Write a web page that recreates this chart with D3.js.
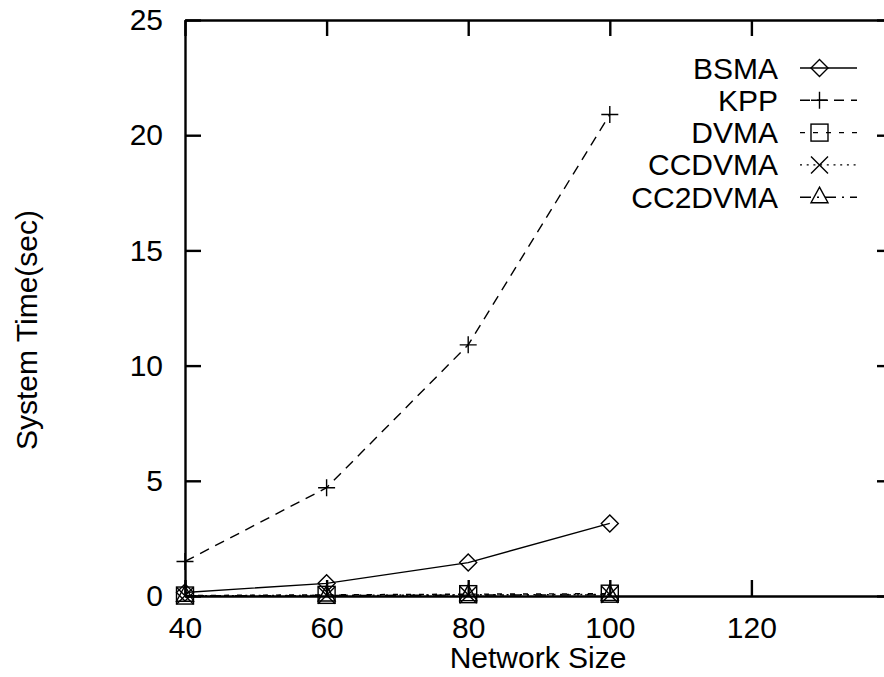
<!DOCTYPE html>
<html>
<head>
<meta charset="utf-8">
<script src="https://cdn.jsdelivr.net/npm/d3@7"></script>
<style>
  body { margin: 0; background: #fff; }
  svg { display: block; font-family: "Liberation Sans", Arial, sans-serif; }
  .axis path, .axis line { stroke: #000; stroke-width: 2.4; }
  .axis text { font-size: 30px; fill: #000; }
</style>
</head>
<body>
<div id="chart"></div>
<script>
  const sizes = [40, 60, 80, 100];
  const bsma = [0.15, 0.55, 1.45, 3.15];
  const kpp = [1.5, 4.7, 10.9, 20.9];
  const dvma = [0.02, 0.05, 0.08, 0.1];
  const ccdvma = [0.01, 0.03, 0.05, 0.07];
  const cc2dvma = [0.01, 0.02, 0.04, 0.05];
  const xTicks = [40, 60, 80, 100, 120];
  const yTicks = [0, 5, 10, 15, 20, 25];

  const series = [
    { name: "BSMA", values: bsma, dash: null, marker: "diamond" },
    { name: "KPP", values: kpp, dash: "10,7", marker: "plus" },
    { name: "DVMA", values: dvma, dash: "5,8", marker: "square" },
    { name: "CCDVMA", values: ccdvma, dash: "2,4.7", marker: "cross" },
    { name: "CC2DVMA", values: cc2dvma, dash: "11,6,2,6", marker: "triangle" }
  ];

  const width = 884, height = 677;
  const x = d3.scaleLinear().domain([40, 140]).range([185, 893]);
  const y = d3.scaleLinear().domain([0, 25]).range([596, 20]);

  const svg = d3.select("#chart").append("svg")
    .attr("width", width)
    .attr("height", height);

  // box with inward ticks on all four sides
  svg.append("g").attr("class", "axis")
    .attr("transform", `translate(0,${y(0)})`)
    .call(d3.axisBottom(x).tickValues(xTicks).tickSize(-16).tickSizeOuter(0).tickPadding(21));
  svg.append("g").attr("class", "axis")
    .attr("transform", `translate(0,${y(25)})`)
    .call(d3.axisTop(x).tickValues(xTicks).tickSize(-16).tickSizeOuter(0).tickFormat(""));
  svg.append("g").attr("class", "axis")
    .attr("transform", `translate(${x(40)},0)`)
    .call(d3.axisLeft(y).tickValues(yTicks).tickSize(-16).tickSizeOuter(0).tickPadding(22));
  svg.append("g").attr("class", "axis")
    .attr("transform", `translate(${x(140)},0)`)
    .call(d3.axisRight(y).tickValues(yTicks).tickSize(-16).tickSizeOuter(0).tickFormat(""));
  svg.selectAll(".axis text").attr("font-family", null);

  svg.append("text")
    .attr("x", 538).attr("y", 668)
    .attr("text-anchor", "middle")
    .attr("font-size", 30)
    .text("Network Size");

  svg.append("text")
    .attr("transform", "translate(37,330) rotate(-90)")
    .attr("text-anchor", "middle")
    .attr("font-size", 30)
    .text("System Time(sec)");

  function drawMarker(g, type, cx, cy) {
    const s = 8.5;
    if (type === "diamond") {
      g.append("path").attr("d", `M${cx},${cy - s}L${cx + s},${cy}L${cx},${cy + s}L${cx - s},${cy}Z`);
    } else if (type === "plus") {
      g.append("path").attr("d", `M${cx - s},${cy}H${cx + s}M${cx},${cy - s}V${cy + s}`);
    } else if (type === "square") {
      g.append("rect").attr("x", cx - s).attr("y", cy - s).attr("width", 2 * s).attr("height", 2 * s);
    } else if (type === "cross") {
      g.append("path").attr("d", `M${cx - s},${cy - s}L${cx + s},${cy + s}M${cx - s},${cy + s}L${cx + s},${cy - s}`);
    } else if (type === "triangle") {
      g.append("path").attr("d", `M${cx},${cy - 10}L${cx + s},${cy + 5.5}L${cx - s},${cy + 5.5}Z`);
    }
  }

  const line = d3.line().x((d, i) => x(sizes[i])).y(d => y(d));

  series.forEach(s => {
    const g = svg.append("g")
      .attr("fill", "none")
      .attr("stroke", "#000")
      .attr("stroke-width", 1.4);
    g.append("path")
      .attr("d", line(s.values))
      .attr("stroke-dasharray", s.dash);
    const mg = g.append("g").attr("fill", "none");
    s.values.forEach((v, i) => drawMarker(mg, s.marker, x(sizes[i]), y(v)));
  });

  // legend
  series.forEach((s, i) => {
    const ry = 68 + i * 32.3;
    svg.append("text")
      .attr("x", 778).attr("y", ry)
      .attr("dy", "0.35em")
      .attr("text-anchor", "end")
      .attr("font-size", 30)
      .text(s.name);
    const g = svg.append("g")
      .attr("fill", "none")
      .attr("stroke", "#000")
      .attr("stroke-width", 1.4);
    g.append("line")
      .attr("x1", 800).attr("x2", 857)
      .attr("y1", ry).attr("y2", ry)
      .attr("stroke-dasharray", s.dash);
    drawMarker(g, s.marker, 819.5, ry);
  });
</script>
</body>
</html>
